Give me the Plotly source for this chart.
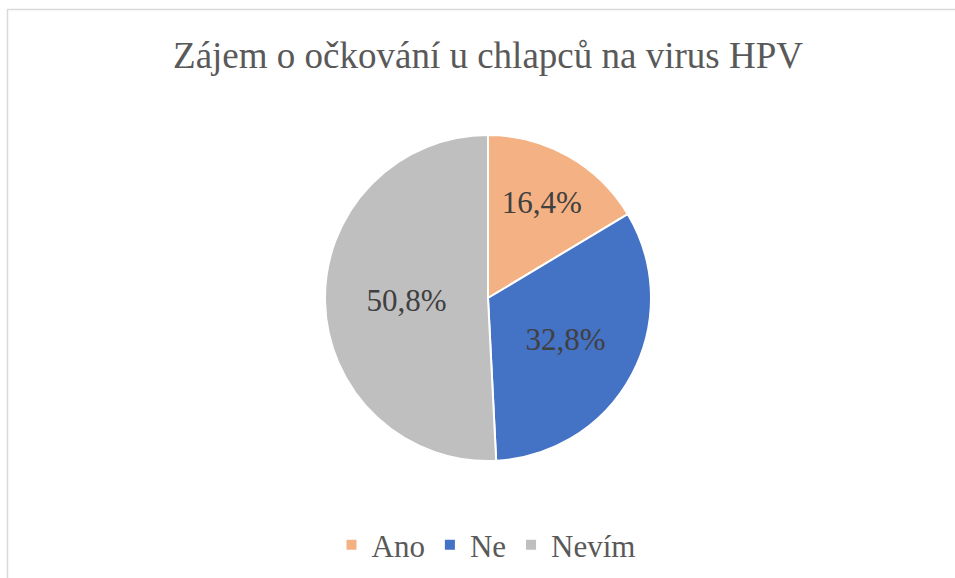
import plotly.graph_objects as go

labels = ["Ano", "Ne", "Nevím"]
values = [16.4, 32.8, 50.8]
colors = ["#F4B183", "#4472C4", "#BFBFBF"]

W, H = 955, 578
cx, cy, r = 488, 298, 163

fig = go.Figure(go.Pie(
    labels=labels,
    values=values,
    sort=False,
    direction="clockwise",
    rotation=0,
    marker=dict(colors=colors, line=dict(color="white", width=2)),
    texttemplate="%{value:.1f}%",
    textposition="inside",
    insidetextorientation="horizontal",
    textfont=dict(family="Liberation Serif", size=31, color="#404040"),
    hoverinfo="label+percent",
    domain=dict(x=[(cx - r) / W, (cx + r) / W], y=[1 - (cy + r) / H, 1 - (cy - r) / H]),
))

fig.update_layout(
    width=W, height=H,
    margin=dict(l=0, r=0, t=0, b=0),
    paper_bgcolor="white",
    separators=", ",
    title=dict(text="Zájem o očkování u chlapců na virus HPV",
               x=488 / W, xanchor="center", y=1 - 55 / H, yanchor="middle",
               font=dict(family="Liberation Serif", size=37, color="#595959")),
    legend=dict(orientation="h", x=486 / W, xanchor="center", y=1 - 545 / H, yanchor="middle",
                font=dict(family="Liberation Serif", size=31, color="#595959"),
                traceorder="normal"),
    shapes=[dict(type="rect", xref="paper", yref="paper",
                 x0=7.5 / W, x1=1.01, y0=-0.01, y1=1 - 9.5 / H,
                 line=dict(color="#D9D9D9", width=1.5), fillcolor="rgba(0,0,0,0)", layer="below")],
)

fig.write_html("out.html", config={"displayModeBar": False},
               post_script="document.body.style.margin='0';document.body.style.overflow='hidden';")
